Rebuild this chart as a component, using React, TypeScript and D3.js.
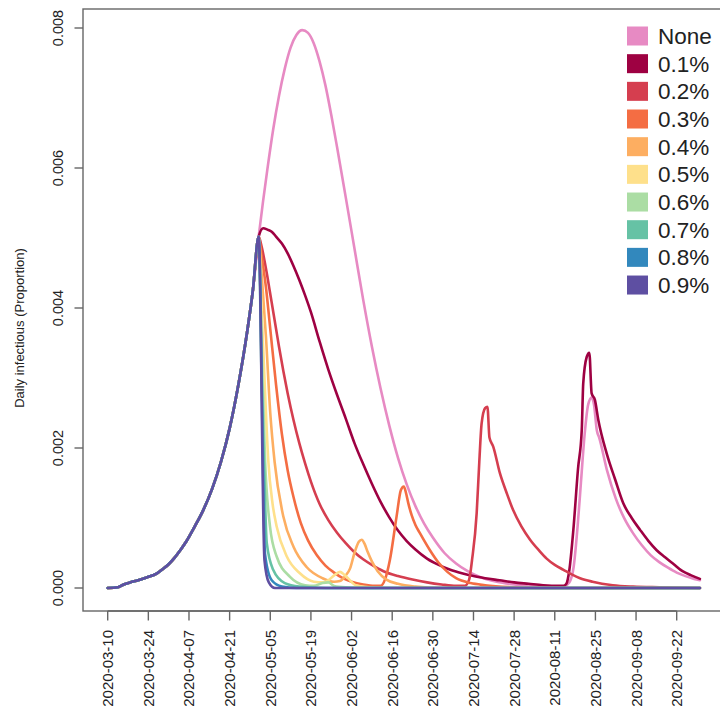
import React from "react";
import * as d3 from "d3";

// days since 2020-03-10, value (proportion)
const commonRise: [number, number][] = [
  [0, 0], [3.5, 0.00001], [5.5, 0.00005], [7.7, 0.00008], [10.5, 0.00011], [13.4, 0.00015],
  [17, 0.00021], [19, 0.00027], [21, 0.00034], [23, 0.00043], [25, 0.00054], [27, 0.00066], [30, 0.00088],
  [33, 0.00112], [36, 0.00142], [39, 0.0018], [42, 0.00228], [45, 0.0029], [48, 0.00365], [50, 0.00425],
  [52, 0.00502],
];

const seriesNone: [number, number][] = [
  [53.5, 0.00552], [55, 0.00598], [57, 0.00655], [59, 0.00703], [61, 0.00742], [63, 0.00772], [65, 0.0079],
  [67, 0.00797], [69, 0.00793], [71, 0.00778], [73, 0.00752], [75, 0.00718], [77, 0.00676], [79, 0.0063],
  [82, 0.00558], [85, 0.00485], [88, 0.00412], [91, 0.00345], [94, 0.00285], [97, 0.00232], [100, 0.00186],
  [103, 0.00148], [106, 0.00117], [109, 0.00092], [112, 0.00072], [116, 0.0005], [120, 0.00035], [124, 0.00024],
  [128, 0.00016], [134, 0.00009], [140, 0.00005], [148, 0.00002], [155, 0.00001], [157, 0.00002], [159, 0.00008],
  [160.5, 0.0003], [162, 0.00095], [163, 0.0015], [164.3, 0.0022], [165.5, 0.00262], [166.7, 0.00272],
  [167.5, 0.00262], [168.5, 0.00225], [169.3, 0.00215], [172, 0.00168], [175, 0.00128], [178, 0.00099],
  [181, 0.00078], [184, 0.00061], [187, 0.00047], [190, 0.00037], [193, 0.00029], [196, 0.00022],
  [199, 0.00017], [202, 0.00013], [204, 0.00011],
];

const series01: [number, number][] = [
  [53.6, 0.00514], [55, 0.00512], [56.5, 0.00509], [58, 0.00502], [60, 0.00492], [62, 0.00478], [64, 0.0046],
  [66, 0.0044], [68, 0.00418], [70, 0.00394], [73, 0.00352], [76, 0.00312], [79, 0.00276], [82, 0.00242],
  [85, 0.00207], [88, 0.00177], [91, 0.00149], [94, 0.00123], [97, 0.00101], [100, 0.00082], [103, 0.00067],
  [106, 0.00055], [110, 0.00042], [114, 0.00033], [118, 0.00026], [122, 0.00021], [126, 0.00017], [130, 0.00014],
  [135, 0.00011], [140, 0.00008], [145, 0.00006], [150, 0.00004], [155, 0.00003], [157, 0.00003], [158, 0.00006],
  [159, 0.00025], [160.4, 0.00083], [162, 0.0017], [163.3, 0.00226], [163.8, 0.00292], [165, 0.0033],
  [165.9, 0.00336], [166.7, 0.00278], [167.8, 0.00269], [169, 0.0024], [171.9, 0.00192], [174.8, 0.00155],
  [177.6, 0.00121], [180.5, 0.001], [183.4, 0.00083], [186.3, 0.00067], [189.1, 0.00054], [192, 0.00044],
  [195, 0.00034], [198, 0.00024], [201, 0.00018], [204, 0.00013],
];

const series02: [number, number][] = [
  [53, 0.00488], [54, 0.00468], [55, 0.00445], [56, 0.0042], [57, 0.00395], [58, 0.0037], [59, 0.00345],
  [60.5, 0.0031], [62, 0.00278], [64, 0.0024], [66, 0.00207], [68, 0.00178], [70, 0.00152], [73, 0.0012],
  [76, 0.00097], [79, 0.00079], [82, 0.00064], [85, 0.00051], [88, 0.00041], [91, 0.00033], [95, 0.00024],
  [100, 0.00017], [105, 0.00012], [110, 0.00008], [115, 0.00005], [120, 0.00003], [123, 0.00003],
  [124.5, 0.00012], [125.5, 0.0004], [127.1, 0.00107], [128, 0.0018], [128.8, 0.00235], [130, 0.00257],
  [130.8, 0.00259], [131.5, 0.00215], [132.8, 0.00202], [135.1, 0.00164], [137.5, 0.00135], [139.7, 0.00111],
  [142.5, 0.00088], [145.5, 0.00069], [148.5, 0.00054], [151.2, 0.00042], [154, 0.00033], [157, 0.00026],
  [160, 0.00019], [162.7, 0.00014], [167, 0.00009], [174, 0.00004], [181, 0.00002], [190, 0.00001], [204, 0],
];

const series03: [number, number][] = [
  [53, 0.00475], [54.5, 0.0043], [56, 0.0037], [58, 0.0029], [60, 0.0022], [62, 0.00168], [64, 0.0013],
  [66.5, 0.00093], [69, 0.00068], [72, 0.00047], [75, 0.00032], [78, 0.00022], [81, 0.00014], [84, 0.00009],
  [88, 0.00005], [92, 0.00003], [94, 0.00003], [95.5, 0.00012], [97.2, 0.0004], [99.5, 0.00102], [101, 0.0014],
  [102, 0.00145], [102.8, 0.00135], [103.5, 0.00122], [104.7, 0.00104], [106, 0.0009], [107.6, 0.00078],
  [111, 0.00054], [114, 0.00036], [117, 0.00023], [120, 0.00014], [125, 0.00007], [130, 0.00004],
  [140, 0.00001], [150, 0], [204, 0],
];

const series04: [number, number][] = [
  [53, 0.0045], [54.5, 0.0036], [56, 0.0025], [57.5, 0.0018], [60.5, 0.00102], [64, 0.00059], [68.5, 0.0003],
  [74, 0.00014], [78, 0.00009], [80, 0.0001], [82, 0.00018], [83.5, 0.00028], [85, 0.0005], [86.5, 0.00066],
  [87.5, 0.00069], [88.5, 0.00063], [89.5, 0.00052], [91, 0.00038], [93, 0.00024], [96, 0.00012],
  [100, 0.00006], [106, 0.00002], [115, 0], [204, 0],
];

const series05: [number, number][] = [
  [53, 0.004], [54.2, 0.0028], [55.3, 0.00183], [56.8, 0.0012], [58.2, 0.00088], [61.7, 0.00045],
  [66.2, 0.00021], [71, 0.00009], [74, 0.00008], [76, 0.00011], [78, 0.00018], [80, 0.00023], [81.5, 0.00019],
  [83, 0.00013], [85.5, 0.00004], [90, 0.00001], [100, 0], [204, 0],
];

const series06: [number, number][] = [
  [53, 0.0035], [54.2, 0.00183], [55.9, 0.00088], [58.2, 0.00045], [62.8, 0.00016], [68, 0.00004],
  [71, 0.00003], [74, 0.00007], [76, 0.00008], [78, 0.00003], [82, 0.00001], [90, 0], [204, 0],
];

const series07: [number, number][] = [
  [53, 0.003], [53.8, 0.00183], [54.8, 0.00064], [57, 0.00026], [61, 0.00007], [66, 0.00002], [75, 0], [204, 0],
];

const series08: [number, number][] = [
  [54.2, 0.00048], [56.5, 0.00011], [60, 0.00002], [65, 0], [204, 0],
];

const series09: [number, number][] = [
  [54, 0.0004], [55.5, 0.00008], [57.6, 0], [204, 0],
];

const seriesLabels = ["None", "0.1%", "0.2%", "0.3%", "0.4%", "0.5%", "0.6%", "0.7%", "0.8%", "0.9%"];
const seriesColors = ["#E78AC3", "#9E0142", "#D53E4F", "#F46D43", "#FDAE61", "#FEE08B", "#ABDDA4", "#66C2A5", "#3288BD", "#5E4FA2"];
const seriesTails = [seriesNone, series01, series02, series03, series04, series05, series06, series07, series08, series09];

const xTickLabels = [
  "2020-03-10", "2020-03-24", "2020-04-07", "2020-04-21", "2020-05-05", "2020-05-19", "2020-06-02",
  "2020-06-16", "2020-06-30", "2020-07-14", "2020-07-28", "2020-08-11", "2020-08-25", "2020-09-08", "2020-09-22",
];
const yTicks = [0, 0.002, 0.004, 0.006, 0.008];

const FONT = "'Liberation Sans', Arial, Helvetica, sans-serif";

export default function App() {
  const parse = d3.utcParse("%Y-%m-%d");
  const start = parse("2020-03-10") as Date;
  const toDate = (d: number) => new Date(start.getTime() + d * 86400000);
  const x = d3.scaleUtc().domain([start, parse("2020-09-22") as Date]).range([107.7, 676.7]);
  const y = d3.scaleLinear().domain([0, 0.008]).range([588, 28]);
  const line = d3
    .line<[number, number]>()
    .x((d) => x(toDate(d[0])))
    .y((d) => y(d[1]))
    .curve(d3.curveMonotoneX);
  const fmt = d3.format(".3f");
  const axisColor = "#666";
  const textColor = "#222";
  const box = { left: 83, top: 9, bottom: 611, right: 724 };

  return (
    <svg width={720} height={710} style={{ position: "absolute", left: 0, top: 0, background: "#fff" }}>
      <rect x={0} y={0} width={720} height={710} fill="#fff" />
      {seriesTails.map((tail, i) => (
        <path
          key={seriesLabels[i]}
          d={line([...commonRise, ...tail]) || ""}
          fill="none"
          stroke={seriesColors[i]}
          strokeWidth={2.6}
          strokeLinejoin="round"
          strokeLinecap="round"
        />
      ))}
      <rect x={box.left} y={box.top} width={box.right - box.left} height={box.bottom - box.top} fill="none" stroke={axisColor} strokeWidth={1.4} />
      {yTicks.map((t) => (
        <g key={t}>
          <line x1={box.left - 8.5} x2={box.left} y1={y(t)} y2={y(t)} stroke={axisColor} strokeWidth={1.4} />
          <text transform={`translate(62.5,${y(t)}) rotate(-90)`} textAnchor="middle" fontFamily={FONT} fontSize={14.5} fill={textColor}>
            {fmt(t)}
          </text>
        </g>
      ))}
      <line x1={x(parse(xTickLabels[0]) as Date)} x2={x(parse(xTickLabels[xTickLabels.length - 1]) as Date)} y1={box.bottom} y2={box.bottom} stroke={axisColor} strokeWidth={1.4} />
      {xTickLabels.map((s) => {
        const px = x(parse(s) as Date);
        return (
          <g key={s}>
            <line x1={px} x2={px} y1={box.bottom} y2={box.bottom + 9.5} stroke={axisColor} strokeWidth={1.4} />
            <text transform={`translate(${px + 5.5},630) rotate(-90)`} textAnchor="end" fontFamily={FONT} fontSize={15} fill={textColor}>
              {s}
            </text>
          </g>
        );
      })}
      <text transform="translate(24,328) rotate(-90)" textAnchor="middle" fontFamily={FONT} fontSize={13} fill={textColor}>
        Daily infectious (Proportion)
      </text>
      {seriesLabels.map((lab, i) => {
        const cy = 36 + i * 27.67;
        return (
          <g key={lab}>
            <rect x={627} y={cy - 9.5} width={21} height={19} fill={seriesColors[i]} />
            <text x={658} y={cy + 8} fontFamily={FONT} fontSize={22.5} fill={textColor}>
              {lab}
            </text>
          </g>
        );
      })}
    </svg>
  );
}
